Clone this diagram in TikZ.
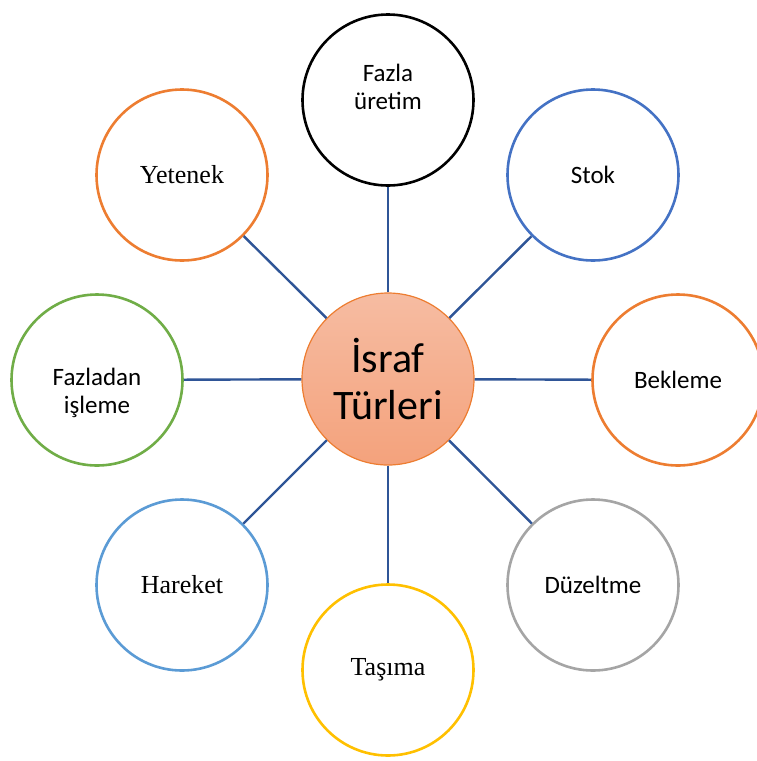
\documentclass[tikz,border=0pt]{standalone}
\usepackage{fontspec}
\setmainfont{Carlito}
\newfontfamily\timesfont{Liberation Serif}
\definecolor{linkblue}{HTML}{2F5597}
\definecolor{ringblue}{HTML}{4472C4}
\definecolor{ringorange}{HTML}{ED7D31}
\definecolor{ringgray}{HTML}{A5A5A5}
\definecolor{ringyellow}{HTML}{FFC000}
\definecolor{ringsky}{HTML}{5B9BD5}
\definecolor{ringgreen}{HTML}{70AD47}
\definecolor{hubtop}{HTML}{F6BCA2}
\definecolor{hubbottom}{HTML}{F4A27C}
\tikzset{
  waste/.style={circle, draw=#1, line width=1.3pt, fill=white,
    minimum size=85.5pt, inner sep=0pt, align=center,
    font=\fontsize{12.5}{14}\selectfont},
  serifwaste/.style={waste=#1, font=\timesfont\fontsize{13}{15}\selectfont},
  hub/.style={circle, draw=ringorange, line width=0.6pt,
    top color=hubtop, bottom color=hubbottom,
    minimum size=86pt, inner sep=0pt, align=center,
    font=\fontsize{21}{23.5}\selectfont},
  link/.style={draw=linkblue, line width=1.2pt}
}
\begin{document}
\begin{tikzpicture}[x=0.5pt, y=-0.5pt]
\useasboundingbox (0,0) rectangle (756,761);
% centre
\node[hub] (israf) at (388,379) {İsraf\\Türleri};
% kinds of waste
\node[waste=black, label={[font=\fontsize{12.5}{14}\selectfont, align=center, yshift=6.5pt]center:Fazla\\üretim}] (uretim) at (388,100) {};
\node[waste=ringblue] (stok) at (593,175) {Stok};
\node[waste=ringorange] (bekleme) at (678,380) {Bekleme};
\node[waste=ringgray] (duzeltme) at (593,585) {Düzeltme};
\node[serifwaste=ringyellow] (tasima) at (388,670) {Taşıma};
\node[serifwaste=ringsky] (hareket) at (182,585) {Hareket};
\node[waste=ringgreen, label={[font=\fontsize{12.5}{14}\selectfont, align=center, yshift=-6.5pt]center:Fazladan\\işleme}] (isleme) at (97,380) {};
\node[serifwaste=ringorange] (yetenek) at (182,175) {Yetenek};
% spokes
\path[link] (israf) -- (uretim);
\path[link] (israf) -- (stok);
\path[link] (israf) -- (bekleme);
\path[link] (israf) -- (duzeltme);
\path[link] (israf) -- (tasima);
\path[link] (israf) -- (hareket);
\path[link] (israf) -- (isleme);
\path[link] (israf) -- (yetenek);
\end{tikzpicture}
\end{document}
